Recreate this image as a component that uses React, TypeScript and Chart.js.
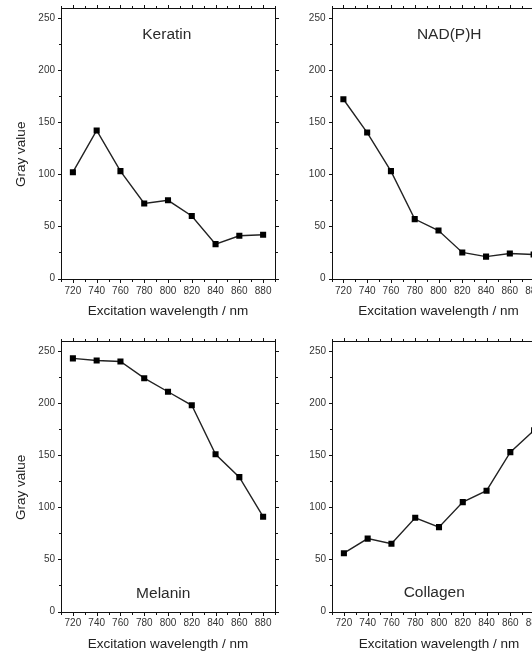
import React, { useEffect, useRef } from 'react';
import { Chart, registerables } from 'chart.js';

Chart.register(...registerables);

// ---------- data ----------
const wavelengths = [720, 740, 760, 780, 800, 820, 840, 860, 880];
const keratin = [102, 142, 103, 72, 75, 60, 33, 41, 42];
const nadph = [172, 140, 103, 57, 46, 25, 21, 24, 23];
const melanin = [243, 241, 240, 224, 211, 198, 151, 129, 91];
const collagen = [56, 70, 65, 90, 81, 105, 116, 153, 174];

const xLabelTicks = [720, 740, 760, 780, 800, 820, 840, 860, 880];
const xAllTicks = [710, 720, 730, 740, 750, 760, 770, 780, 790, 800, 810, 820, 830, 840, 850, 860, 870, 880, 890];
const yLabelTicks = [0, 50, 100, 150, 200, 250];
const yAllTicks = [0, 25, 50, 75, 100, 125, 150, 175, 200, 225, 250];

const xTitle = 'Excitation wavelength / nm';
const yTitle = 'Gray value';

const FONT = "'Liberation Sans', Arial, sans-serif";

type PanelProps = {
  cx: number; cy: number; cw: number; ch: number;
  pad: { left: number; right: number; top: number; bottom: number };
  xTickPad: number;
  values: number[];
  label: string;
  labelAt: [number, number];
  showYTitle: boolean;
};

function Panel(p: PanelProps) {
  const ref = useRef<HTMLCanvasElement | null>(null);
  useEffect(() => {
    const canvas = ref.current;
    if (!canvas) return;

    const framePlugin = {
      id: 'frame',
      beforeDatasetsDraw(chart: any) {
        const { ctx, chartArea: a, scales } = chart;
        const xs = scales.x, ys = scales.y;
        const l = Math.round(a.left) + 0.5, r = Math.round(a.right) + 0.5;
        const t = Math.round(a.top) + 0.5, b = Math.round(a.bottom) + 0.5;
        ctx.save();
        ctx.strokeStyle = '#111';
        ctx.lineWidth = 1;
        ctx.strokeRect(l, t, r - l, b - t);
        ctx.beginPath();
        for (const v of xAllTicks) {
          const px = Math.round(xs.getPixelForValue(v)) + 0.5;
          const len = xLabelTicks.includes(v) ? 3.5 : 2.5;
          ctx.moveTo(px, b); ctx.lineTo(px, b + len);
          ctx.moveTo(px, t); ctx.lineTo(px, t - len);
        }
        for (const v of yAllTicks) {
          const py = Math.round(ys.getPixelForValue(v)) + 0.5;
          const len = yLabelTicks.includes(v) ? 3.5 : 2.5;
          ctx.moveTo(l, py); ctx.lineTo(l - len, py);
          ctx.moveTo(r, py); ctx.lineTo(r + len, py);
        }
        ctx.stroke();
        ctx.restore();
      },
      afterDatasetsDraw(chart: any) {
        const { ctx, scales } = chart;
        ctx.save();
        ctx.fillStyle = '#2a2a2a';
        ctx.font = `15.5px ${FONT}`;
        ctx.textAlign = 'center';
        ctx.textBaseline = 'middle';
        ctx.fillText(p.label, scales.x.getPixelForValue(p.labelAt[0]), scales.y.getPixelForValue(p.labelAt[1]));
        ctx.restore();
      },
    };

    const chart = new Chart(canvas, {
      type: 'line',
      data: {
        datasets: [
          {
            data: wavelengths.map((w, i) => ({ x: w, y: p.values[i] })),
            borderColor: '#222',
            borderWidth: 1.4,
            pointStyle: 'rect',
            pointRadius: 4.3,
            pointBorderWidth: 0,
            pointBackgroundColor: '#000',
            pointBorderColor: '#000',
            tension: 0,
            fill: false,
          },
        ],
      },
      options: {
        responsive: false,
        animation: false,
        layout: { padding: p.pad },
        plugins: { legend: { display: false }, tooltip: { enabled: false }, title: { display: false } },
        scales: {
          x: {
            type: 'linear',
            min: 710,
            max: 890,
            afterBuildTicks: (s: any) => { s.ticks = xLabelTicks.map((v) => ({ value: v })); },
            afterFit: (s: any) => {
              s.height = 44;
              s.paddingLeft = 0; s.paddingRight = 0; s.paddingTop = 0; s.paddingBottom = 0;
            },
            grid: { display: false, drawTicks: false },
            border: { display: false },
            ticks: {
              autoSkip: false,
              maxRotation: 0,
              padding: p.xTickPad,
              color: '#333',
              font: { family: FONT, size: 10 },
              callback: (v: any) => String(v),
            },
            title: {
              display: true,
              text: xTitle,
              color: '#222',
              font: { family: FONT, size: 13.5 },
              padding: { top: 0, bottom: 3 },
            },
          },
          y: {
            type: 'linear',
            min: 0,
            max: 260,
            afterBuildTicks: (s: any) => { s.ticks = yLabelTicks.map((v) => ({ value: v })); },
            afterFit: (s: any) => {
              s.width = 48;
              s.paddingLeft = 0; s.paddingRight = 0; s.paddingTop = 0; s.paddingBottom = 0;
            },
            grid: { display: false, drawTicks: false },
            border: { display: false },
            ticks: {
              padding: 6,
              color: '#333',
              font: { family: FONT, size: 10 },
              callback: (v: any) => String(v),
            },
            title: {
              display: p.showYTitle,
              text: yTitle + '      ',
              color: '#222',
              font: { family: FONT, size: 13.5 },
              padding: { top: 0, bottom: 0 },
            },
          },
        },
      },
      plugins: [framePlugin],
    } as any);
    return () => chart.destroy();
  }, []);

  return (
    <canvas
      ref={ref}
      width={p.cw}
      height={p.ch}
      style={{ position: 'absolute', left: p.cx, top: p.cy, width: p.cw, height: p.ch }}
    />
  );
}

export default function App() {
  return (
    <div
      style={{
        position: 'fixed',
        left: 0,
        top: 0,
        width: 532,
        height: 654,
        overflow: 'hidden',
        background: '#fff',
      }}
    >
      <Panel cx={0} cy={0} cw={290} ch={326}
        pad={{ left: 13, right: 15, top: 7.5, bottom: 3.5 }} xTickPad={7}
        values={keratin} label="Keratin" labelAt={[799, 234]} showYTitle={true} />
      <Panel cx={280} cy={0} cw={281} ch={326}
        pad={{ left: 3.5, right: 15.5, top: 7.5, bottom: 3.5 }} xTickPad={7}
        values={nadph} label="NAD(P)H" labelAt={[809, 234]} showYTitle={false} />
      <Panel cx={0} cy={333} cw={290} ch={330}
        pad={{ left: 13, right: 15, top: 7.7, bottom: 7.5 }} xTickPad={6}
        values={melanin} label="Melanin" labelAt={[796, 17.5]} showYTitle={true} />
      <Panel cx={280} cy={333} cw={281} ch={330}
        pad={{ left: 4, right: 15, top: 7.7, bottom: 7.5 }} xTickPad={6}
        values={collagen} label="Collagen" labelAt={[796, 18]} showYTitle={false} />
    </div>
  );
}
